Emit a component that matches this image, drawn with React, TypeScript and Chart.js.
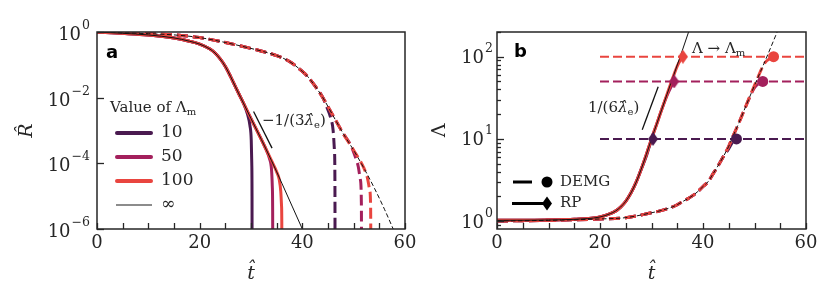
import React, { useEffect, useRef } from "react";
import { Chart, registerables } from "chart.js";

Chart.register(...registerables);

const SERIF = '"DejaVu Serif", serif';
const SANS = '"DejaVu Sans", sans-serif';
const INK = "#262626";
const serif = (size: number, style = "normal") => `${style} ${size}px ${SERIF}`;

// ---------- shared ----------
const LAMBDA_M = [10, 50, 100];
const LAMBDA_LABELS = ["10", "50", "100"];
const COLORS = ["#4a1a50", "#a3205c", "#e9453f"];
const X_MIN = 0;
const X_MAX = 60;
const X_STEP = 5;
const X_LABEL_EVERY = 20;

// ---------- panel a : R-hat vs t-hat ----------
const R_MIN = 1e-6;
const R_MAX = 1;
const R_TICKS = [1e-6, 1e-4, 1e-2, 1];

// RP, Lambda_m -> infinity (thin black solid)
const aRpInfT = [0, 5, 10, 15, 18, 20, 22, 23, 24, 25, 26, 27, 28, 29, 30, 32, 34, 36, 38, 40];
const aRpInfR = [1, 0.912, 0.813, 0.661, 0.525, 0.427, 0.302, 0.229, 0.151, 0.0891, 0.0447, 0.0209, 0.01, 4.8e-3, 2.3e-3, 5.4e-4, 1.2e-4, 2.5e-5, 5.0e-6, 1e-6];
// RP finite Lambda_m : where each curve leaves the black one and falls
const aRpTailT = [
  [28.6, 29.3, 29.8, 30.05, 30.15, 30.2, 30.22],
  [33.0, 33.6, 34.0, 34.15, 34.22, 34.25],
  [35.0, 35.5, 35.8, 35.95, 36.0, 36.02],
];
const aRpTailR = [
  [6.4e-3, 3.2e-3, 1.4e-3, 5.0e-4, 1e-4, 1e-5, 1e-8],
  [2.5e-4, 1.4e-4, 6.3e-5, 2.0e-5, 3.2e-6, 1e-8],
  [5.5e-5, 3.2e-5, 1.4e-5, 5.0e-6, 1.6e-6, 1e-8],
];
// DEMG, Lambda_m -> infinity (thin black dashed)
const aDemgInfT = [0, 10, 16, 20, 25, 30, 32.5, 35, 37.5, 40, 41, 42.5, 44, 46, 48, 50, 52, 54, 56, 57.7];
const aDemgInfR = [1, 0.891, 0.794, 0.676, 0.479, 0.316, 0.251, 0.191, 0.126, 0.0631, 0.0447, 0.0224, 0.01, 2.8e-3, 7.9e-4, 2.5e-4, 7.1e-5, 1.8e-5, 4.0e-6, 1e-6];
const aDemgTailT = [
  [44.0, 44.8, 45.5, 46.0, 46.25, 46.35, 46.38],
  [49.5, 50.3, 50.9, 51.3, 51.5, 51.55],
  [52.0, 52.7, 53.1, 53.3, 53.38],
];
const aDemgTailR = [
  [0.01, 5.0e-3, 2.5e-3, 1e-3, 2.5e-4, 2.5e-5, 1e-8],
  [3.4e-4, 1.6e-4, 7.9e-5, 3.2e-5, 6.3e-6, 1e-8],
  [7.1e-5, 3.5e-5, 1.6e-5, 5.0e-6, 1e-8],
];
const aSlopeT = [30.5, 34.1];
const aSlopeR = [3.8e-3, 2.9e-4];

// ---------- panel b : Lambda vs t-hat ----------
const L_MIN = 0.8;
const L_MAX = 200;
const L_MAJOR = [1, 10, 100];
const L_MINOR = [0.9, 2, 3, 4, 5, 6, 7, 8, 9, 20, 30, 40, 50, 60, 70, 80, 90, 200];

const bRpInfT = [0, 10, 15, 20, 22, 23, 24, 25, 26, 27, 28, 29, 30, 31, 32, 33, 34, 35, 36, 37.2];
const bRpInfL = [1.02, 1.03, 1.05, 1.12, 1.23, 1.32, 1.48, 1.74, 2.19, 2.95, 4.27, 6.46, 10, 15.1, 22.9, 34.7, 52.5, 79.4, 120, 200];
const bRpTailT = [
  [29.0, 29.7, 30.3],
  [33.0, 33.8, 34.4],
  [35.0, 35.6, 36.1],
];
const bRpTailL = [
  [6.2, 8.5, 10],
  [33.5, 43, 50],
  [77, 91, 100],
];
const bDemgInfT = [0, 10, 20, 25, 30, 32, 34, 35, 36, 37, 38, 39, 40, 41, 42, 43, 44, 45, 45.6, 47, 48, 50, 52, 54, 54.4];
const bDemgInfL = [1.0, 1.02, 1.06, 1.1, 1.26, 1.35, 1.48, 1.58, 1.72, 1.86, 2.04, 2.29, 2.63, 3.02, 3.8, 4.79, 6.17, 8.13, 10, 15.8, 22.4, 44.7, 87.1, 174, 200];
const bDemgTailT = [
  [45.0, 45.8, 46.5],
  [50.0, 50.9, 51.6],
  [52.0, 53.0, 53.7],
];
const bDemgTailL = [
  [7.6, 9.2, 10],
  [42, 47.5, 50],
  [84, 95, 100],
];
const bCapStartT = 20;
const bSlopeT = [28.2, 31.3];
const bSlopeL = [12.9, 43];

// ---------- helpers ----------
type P = { x: number; y: number };
const pts = (xs: number[], ys: number[]): P[] => xs.map((x, i) => ({ x, y: ys[i] }));
const withTail = (bt: number[], by: number[], tt: number[], ty: number[]): P[] => [
  ...pts(bt, by).filter((p) => p.x < tt[0]),
  ...pts(tt, ty),
];
const expText = (v: number) => String(Math.round(Math.log10(v))).replace("-", "−");

function diamondCanvas(color: string) {
  const c = document.createElement("canvas");
  c.width = 10;
  c.height = 14;
  const g = c.getContext("2d")!;
  g.fillStyle = color;
  g.beginPath();
  g.moveTo(5, 0);
  g.lineTo(10, 7);
  g.lineTo(5, 14);
  g.lineTo(0, 7);
  g.closePath();
  g.fill();
  return c;
}

type Part = { text: string; font: string; dy?: number };
function drawRich(ctx: CanvasRenderingContext2D, x: number, y: number, parts: Part[]) {
  let cx = x;
  ctx.textAlign = "left";
  ctx.textBaseline = "alphabetic";
  for (const p of parts) {
    ctx.font = p.font;
    ctx.fillText(p.text, cx, y + (p.dy || 0));
    cx += ctx.measureText(p.text).width;
  }
}

function line(ctx: CanvasRenderingContext2D, x1: number, y1: number, x2: number, y2: number) {
  ctx.beginPath();
  ctx.moveTo(x1, y1);
  ctx.lineTo(x2, y2);
  ctx.stroke();
}

// ticks (inward), power-of-ten labels and frame
function frame(chart: any, majorSet: Set<number>, labelRight: number, baseDy: number) {
  const { ctx, chartArea: ca } = chart;
  const xs = chart.scales.x;
  const ys = chart.scales.y;
  ctx.save();
  ctx.strokeStyle = INK;
  ctx.lineWidth = 1.3;
  xs.ticks.forEach((t: any) => {
    const px = Math.round(xs.getPixelForValue(t.value)) + 0.5;
    line(ctx, px, ca.bottom, px, ca.bottom - 6);
  });
  ctx.fillStyle = INK;
  ctx.textBaseline = "alphabetic";
  ys.ticks.forEach((t: any) => {
    const py = ys.getPixelForValue(t.value);
    const major = majorSet.has(t.value);
    const len = major ? 7 : 4;
    const ry = Math.round(py) + 0.5;
    line(ctx, ca.left, ry, ca.left + len, ry);
    if (major) {
      const e = expText(t.value);
      ctx.font = serif(12.5);
      const we = ctx.measureText(e).width;
      ctx.textAlign = "right";
      ctx.fillText(e, labelRight, py + baseDy - 11);
      ctx.font = serif(18);
      ctx.fillText("10", labelRight - we - 1, py + baseDy);
    }
  });
  ctx.lineWidth = 1.5;
  ctx.strokeRect(ca.left, ca.top, ca.right - ca.left, ca.bottom - ca.top);
  ctx.restore();
}

function axisTitles(ctx: CanvasRenderingContext2D, ca: any, yTitle: string, yItalic: boolean, yX: number) {
  ctx.save();
  ctx.fillStyle = INK;
  ctx.font = serif(19, "italic");
  ctx.textAlign = "center";
  ctx.textBaseline = "alphabetic";
  ctx.fillText("t\u0302", (ca.left + ca.right) / 2, 279);
  ctx.translate(yX, (ca.top + ca.bottom) / 2);
  ctx.rotate(-Math.PI / 2);
  ctx.font = serif(19, yItalic ? "italic" : "normal");
  ctx.textBaseline = "middle";
  ctx.fillText(yTitle, 0, 0);
  ctx.restore();
}

const xScale = () => ({
  type: "linear" as const,
  min: X_MIN,
  max: X_MAX,
  grid: { display: false, drawTicks: false },
  border: { display: false },
  ticks: {
    stepSize: X_STEP,
    autoSkip: false,
    maxRotation: 0,
    padding: 4,
    color: INK,
    font: { family: SERIF, size: 18 },
    callback: (v: any) => (Number(v) % X_LABEL_EVERY === 0 ? String(v) : ""),
  },
  afterFit: (s: any) => {
    s.height = 60;
  },
});

const yScale = (min: number, max: number, tickValues: number[], width: number) => ({
  type: "logarithmic" as const,
  min,
  max,
  grid: { display: false, drawTicks: false },
  border: { display: false },
  afterBuildTicks: (s: any) => {
    s.ticks = [...tickValues].sort((a, b) => a - b).map((v) => ({ value: v }));
  },
  ticks: { display: false, autoSkip: false },
  afterFit: (s: any) => {
    s.width = width;
  },
});

export default function App() {
  const refA = useRef<HTMLCanvasElement>(null);
  const refB = useRef<HTMLCanvasElement>(null);

  useEffect(() => {
    Chart.defaults.font.family = SERIF;

    // ---------------- panel a ----------------
    const dsA: any[] = [];
    dsA.push({ data: pts(aRpInfT, aRpInfR), borderColor: "#111", borderWidth: 1, order: 1 });
    dsA.push({ data: pts(aDemgInfT, aDemgInfR), borderColor: "#111", borderWidth: 1, borderDash: [4.5, 2.5], order: 1 });
    dsA.push({ data: pts(aSlopeT, aSlopeR), borderColor: "#111", borderWidth: 1.3, order: 1, cubicInterpolationMode: "default", tension: 0 });
    LAMBDA_M.forEach((_, i) => {
      dsA.push({ data: withTail(aRpInfT, aRpInfR, aRpTailT[i], aRpTailR[i]), borderColor: COLORS[i], borderWidth: 3, order: 4 - i });
      dsA.push({ data: withTail(aDemgInfT, aDemgInfR, aDemgTailT[i], aDemgTailR[i]), borderColor: COLORS[i], borderWidth: 3, borderDash: [11, 5], order: 4 - i });
    });
    dsA.forEach((d) => {
      d.pointRadius = 0;
      d.fill = false;
      if (!d.cubicInterpolationMode) d.cubicInterpolationMode = "monotone";
    });

    const majorA = new Set(R_TICKS);
    const decorA = {
      id: "decorA",
      afterDatasetsDraw(chart: any) {
        const { ctx, chartArea: ca } = chart;
        frame(chart, majorA, 90, 8);
        axisTitles(ctx, ca, "R\u0302", true, 27);
        ctx.save();
        ctx.fillStyle = "#000";
        ctx.font = `bold 18px ${SANS}`;
        ctx.textAlign = "left";
        ctx.textBaseline = "alphabetic";
        ctx.fillText("a", 106, 58);
        ctx.fillStyle = INK;
        // slope annotation
        drawRich(ctx, 262, 125, [
          { text: "−1/(3", font: serif(15) },
          { text: "λ\u0302", font: serif(15, "italic") },
          { text: "e", font: serif(10), dy: 3 },
          { text: ")", font: serif(15) },
        ]);
        // legend
        drawRich(ctx, 110, 112, [
          { text: "Value of Λ", font: serif(15) },
          { text: "m", font: serif(10), dy: 3 },
        ]);
        const rows = [133, 157, 181, 205];
        LAMBDA_M.forEach((_, i) => {
          ctx.strokeStyle = COLORS[i];
          ctx.lineWidth = 4;
          ctx.lineCap = "round";
          line(ctx, 117, rows[i], 151, rows[i]);
        });
        ctx.strokeStyle = "#666";
        ctx.lineWidth = 1.5;
        ctx.lineCap = "butt";
        line(ctx, 116, rows[3], 152, rows[3]);
        ctx.font = serif(17);
        ctx.textBaseline = "middle";
        [...LAMBDA_LABELS, "∞"].forEach((t, i) => ctx.fillText(t, 161, rows[i]));
        ctx.restore();
      },
    };

    const chartA = new Chart(refA.current!, {
      type: "line",
      data: { datasets: dsA },
      options: {
        animation: false,
        responsive: false,
        devicePixelRatio: 1,
        layout: { padding: { left: 0, right: 425, top: 32, bottom: 0 } },
        plugins: { legend: { display: false }, tooltip: { enabled: false } },
        scales: { x: xScale(), y: yScale(R_MIN, R_MAX, R_TICKS, 97) },
      } as any,
      plugins: [decorA],
    });

    // ---------------- panel b ----------------
    const dsB: any[] = [];
    LAMBDA_M.forEach((L, i) => {
      dsB.push({
        data: [{ x: bCapStartT, y: L }, { x: X_MAX, y: L }],
        borderColor: COLORS[i],
        borderWidth: 2,
        borderDash: [9, 4],
        order: 8,
        tension: 0,
      });
    });
    dsB.push({ data: pts(bRpInfT, bRpInfL), borderColor: "#111", borderWidth: 1, order: 1, cubicInterpolationMode: "monotone" });
    dsB.push({ data: pts(bDemgInfT, bDemgInfL), borderColor: "#111", borderWidth: 1, borderDash: [4.5, 2.5], order: 1, cubicInterpolationMode: "monotone" });
    dsB.push({ data: pts(bSlopeT, bSlopeL), borderColor: "#111", borderWidth: 1.3, order: 1, tension: 0 });
    LAMBDA_M.forEach((L, i) => {
      dsB.push({ data: withTail(bRpInfT, bRpInfL, bRpTailT[i], bRpTailL[i]), borderColor: COLORS[i], borderWidth: 3, order: 4 - i, cubicInterpolationMode: "monotone" });
      dsB.push({ data: withTail(bDemgInfT, bDemgInfL, bDemgTailT[i], bDemgTailL[i]), borderColor: COLORS[i], borderWidth: 3, borderDash: [11, 5], order: 4 - i, cubicInterpolationMode: "monotone" });
      const rpEnd = bRpTailT[i][bRpTailT[i].length - 1];
      const demgEnd = bDemgTailT[i][bDemgTailT[i].length - 1];
      dsB.push({
        data: [{ x: rpEnd, y: L }],
        showLine: false,
        pointStyle: diamondCanvas(COLORS[i]),
        pointRadius: 6,
        order: 0,
      });
      dsB.push({
        data: [{ x: demgEnd, y: L }],
        showLine: false,
        pointStyle: "circle",
        pointRadius: 5.5,
        pointBackgroundColor: COLORS[i],
        pointBorderWidth: 0,
        order: 0,
      });
    });
    dsB.forEach((d) => {
      if (d.pointRadius === undefined) d.pointRadius = 0;
      d.fill = false;
    });

    const majorB = new Set(L_MAJOR);
    const decorB = {
      id: "decorB",
      afterDatasetsDraw(chart: any) {
        const { ctx, chartArea: ca } = chart;
        frame(chart, majorB, 493, 6.5);
        axisTitles(ctx, ca, "Λ", false, 440);
        ctx.save();
        ctx.fillStyle = "#000";
        ctx.font = `bold 18px ${SANS}`;
        ctx.textAlign = "left";
        ctx.textBaseline = "alphabetic";
        ctx.fillText("b", 514, 57);
        ctx.fillStyle = INK;
        drawRich(ctx, 692, 53, [
          { text: "Λ → Λ", font: serif(15) },
          { text: "m", font: serif(10), dy: 3 },
        ]);
        drawRich(ctx, 588, 112, [
          { text: "1/(6", font: serif(15) },
          { text: "λ\u0302", font: serif(15, "italic") },
          { text: "e", font: serif(10), dy: 3 },
          { text: ")", font: serif(15) },
        ]);
        // legend
        ctx.strokeStyle = "#000";
        ctx.fillStyle = "#000";
        ctx.lineWidth = 3;
        line(ctx, 513, 182, 532, 182);
        ctx.beginPath();
        ctx.arc(547, 182, 5.5, 0, Math.PI * 2);
        ctx.fill();
        line(ctx, 512, 203.5, 546, 203.5);
        ctx.beginPath();
        ctx.moveTo(547, 196.5);
        ctx.lineTo(552, 203.5);
        ctx.lineTo(547, 210.5);
        ctx.lineTo(542, 203.5);
        ctx.closePath();
        ctx.fill();
        ctx.fillStyle = INK;
        ctx.font = serif(15);
        ctx.textBaseline = "middle";
        ctx.fillText("DEMG", 560, 182);
        ctx.fillText("RP", 560, 203.5);
        ctx.restore();
      },
    };

    const chartB = new Chart(refB.current!, {
      type: "line",
      data: { datasets: dsB },
      options: {
        animation: false,
        responsive: false,
        devicePixelRatio: 1,
        layout: { padding: { left: 415, right: 24, top: 32, bottom: 0 } },
        plugins: { legend: { display: false }, tooltip: { enabled: false } },
        scales: { x: xScale(), y: yScale(L_MIN, L_MAX, [...L_MAJOR, ...L_MINOR], 82) },
      } as any,
      plugins: [decorB],
    });

    return () => {
      chartA.destroy();
      chartB.destroy();
    };
  }, []);

  return (
    <div style={{ position: "fixed", left: 0, top: 0, width: 830, height: 289, background: "#fff" }}>
      <canvas ref={refA} width={830} height={289} style={{ position: "absolute", left: 0, top: 0 }} />
      <canvas ref={refB} width={830} height={289} style={{ position: "absolute", left: 0, top: 0 }} />
    </div>
  );
}
